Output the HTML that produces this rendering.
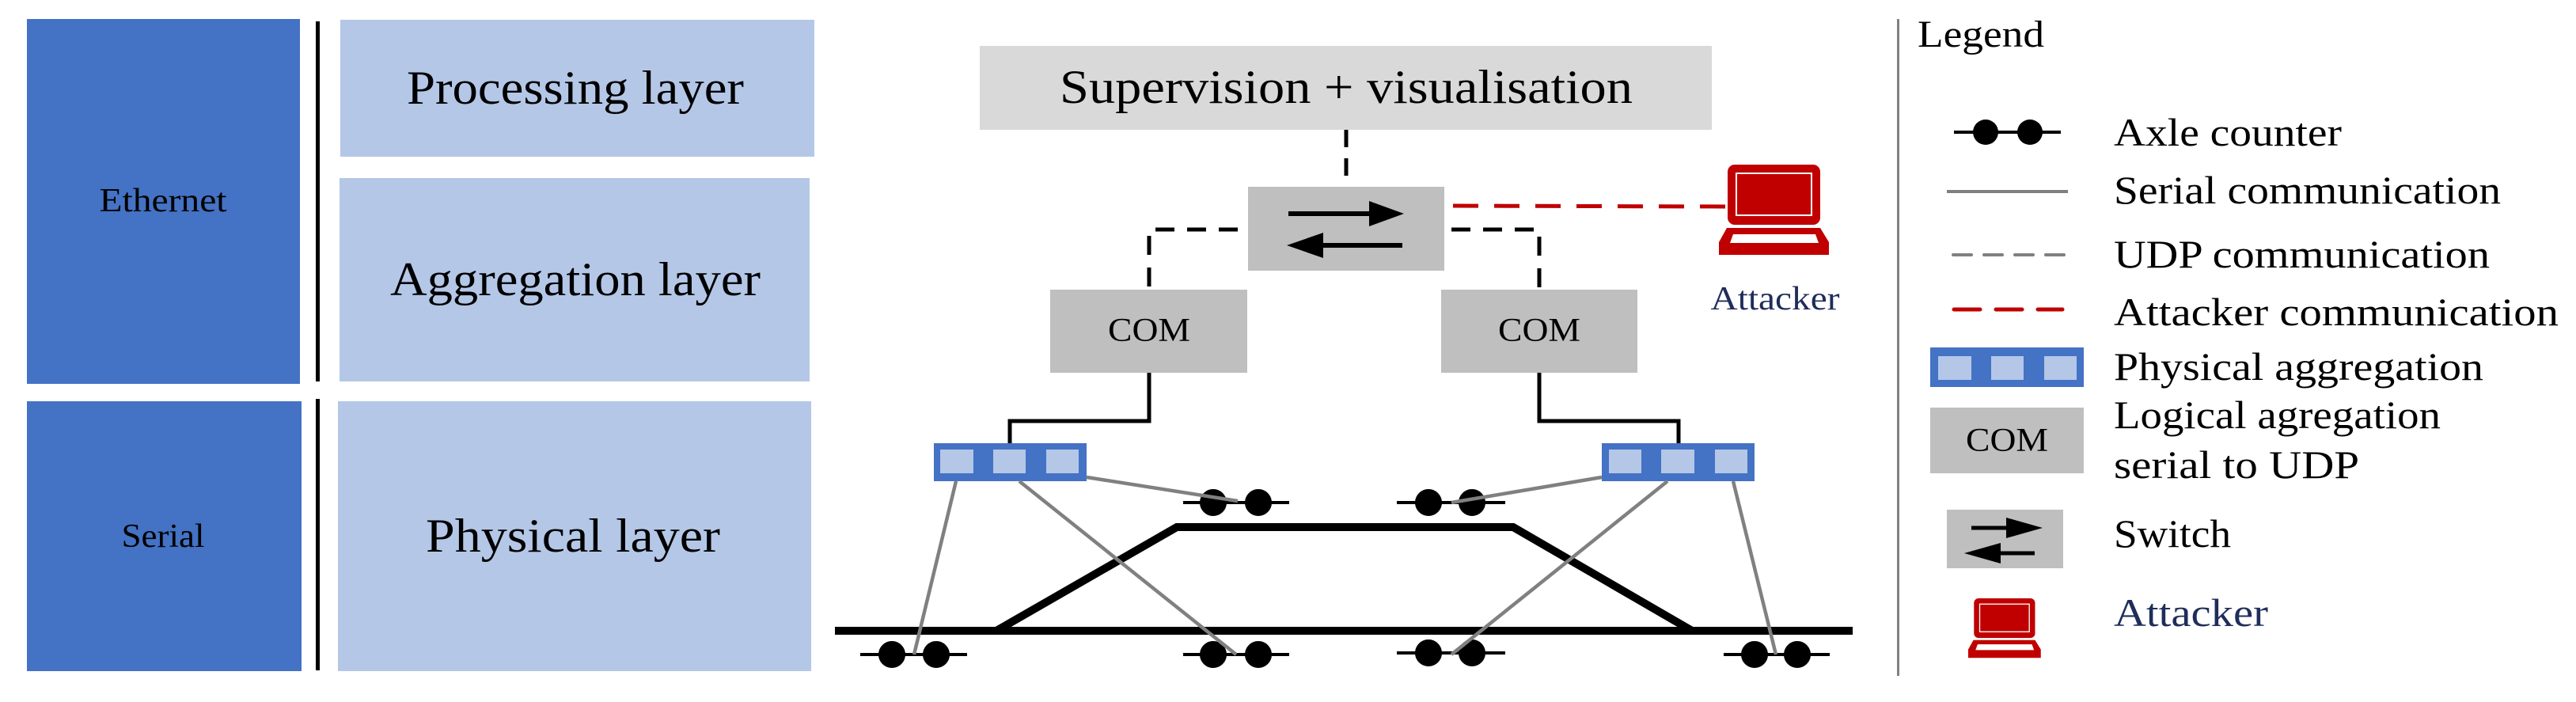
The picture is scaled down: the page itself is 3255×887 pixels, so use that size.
<!DOCTYPE html>
<html><head><meta charset="utf-8"><style>
html,body{margin:0;padding:0;background:#fff;}
svg{display:block;font-family:"Liberation Serif","DejaVu Serif",serif;}
svg text{font-family:"Liberation Serif","DejaVu Serif",serif;fill:#000;}
</style></head><body>
<svg width="3255" height="887" viewBox="0 0 3255 887" xmlns="http://www.w3.org/2000/svg" font-family="Liberation Serif, DejaVu Serif, serif">
<defs>
<g id="laptop">
<rect x="11" y="0" width="117" height="76" rx="9" fill="#c00000"/>
<rect x="22" y="11" width="95" height="53" fill="none" stroke="#fff" stroke-width="2"/>
<path d="M10,80 L128,80 L139,98 L139,114 L0,114 L0,98 Z" fill="#c00000"/>
<path d="M18,88 L122,88 L126,99 L14,99 Z" fill="#fff"/>
</g>
</defs>

<rect x="34" y="24" width="345" height="461" fill="#4472c4"/>
<rect x="34" y="507" width="347" height="341" fill="#4472c4"/>
<text x="206" y="267" font-size="42" text-anchor="middle" textLength="161" lengthAdjust="spacingAndGlyphs">Ethernet</text>
<text x="206" y="691" font-size="42" text-anchor="middle" textLength="105" lengthAdjust="spacingAndGlyphs">Serial</text>
<rect x="399" y="27" width="5" height="455" fill="#000"/>
<rect x="399" y="504" width="5" height="343" fill="#000"/>
<rect x="430" y="25" width="599" height="173" fill="#b4c7e7"/>
<rect x="429" y="225" width="594" height="257" fill="#b4c7e7"/>
<rect x="427" y="507" width="598" height="341" fill="#b4c7e7"/>
<text x="727" y="131" font-size="60" text-anchor="middle" textLength="426" lengthAdjust="spacingAndGlyphs">Processing layer</text>
<text x="727" y="373" font-size="60" text-anchor="middle" textLength="468" lengthAdjust="spacingAndGlyphs">Aggregation layer</text>
<text x="724" y="697" font-size="60" text-anchor="middle" textLength="372" lengthAdjust="spacingAndGlyphs">Physical layer</text>

<rect x="1238" y="58" width="925" height="106" fill="#d9d9d9"/>
<text x="1701" y="130" font-size="60" text-anchor="middle" textLength="724" lengthAdjust="spacingAndGlyphs">Supervision + visualisation</text>
<line x1="1701" y1="164" x2="1701" y2="236" stroke="#000" stroke-width="5" stroke-dasharray="22,14"/>

<rect x="1577" y="236" width="248" height="106" fill="#bfbfbf"/>
<line x1="1628" y1="270" x2="1735" y2="270" stroke="#000" stroke-width="6"/>
<polygon points="1774,270 1730,254 1730,286" fill="#000"/>
<line x1="1772" y1="310" x2="1668" y2="310" stroke="#000" stroke-width="6"/>
<polygon points="1626,310 1672,294 1672,326" fill="#000"/>

<polyline points="1564,290 1452,290 1452,366" fill="none" stroke="#000" stroke-width="5" stroke-dasharray="24,16"/>
<polyline points="1834,290 1945,290 1945,366" fill="none" stroke="#000" stroke-width="5" stroke-dasharray="24,16"/>
<line x1="1836" y1="260" x2="2184" y2="261" stroke="#c00000" stroke-width="5" stroke-dasharray="32,20"/>

<rect x="1327" y="366" width="249" height="105" fill="#bfbfbf"/>
<rect x="1821" y="366" width="248" height="105" fill="#bfbfbf"/>
<text x="1452" y="431" font-size="42" text-anchor="middle" textLength="104" lengthAdjust="spacingAndGlyphs">COM</text>
<text x="1945" y="431" font-size="42" text-anchor="middle" textLength="104" lengthAdjust="spacingAndGlyphs">COM</text>

<use href="#laptop" transform="translate(2172,208)"/>
<text x="2243" y="391" font-size="42" text-anchor="middle" textLength="163" lengthAdjust="spacingAndGlyphs" style="fill:#1f2d5a">Attacker</text>

<polyline points="1452,471 1452,532 1276,532 1276,560" fill="none" stroke="#000" stroke-width="5"/>
<polyline points="1945,471 1945,532 2121,532 2121,560" fill="none" stroke="#000" stroke-width="5"/>

<rect x="1180" y="560" width="193" height="48" fill="#4472c4"/>
<rect x="1188" y="568" width="42" height="30" fill="#b4c7e7"/>
<rect x="1255" y="568" width="41" height="30" fill="#b4c7e7"/>
<rect x="1322" y="568" width="41" height="30" fill="#b4c7e7"/>
<rect x="2024" y="560" width="193" height="48" fill="#4472c4"/>
<rect x="2033" y="568" width="41" height="30" fill="#b4c7e7"/>
<rect x="2099" y="568" width="42" height="30" fill="#b4c7e7"/>
<rect x="2167" y="568" width="41" height="30" fill="#b4c7e7"/>

<line x1="1055" y1="797" x2="2341" y2="797" stroke="#000" stroke-width="10"/>
<polyline points="1259,797 1487,666 1912,666 2138,797" fill="none" stroke="#000" stroke-width="10"/>

<g stroke="#000" stroke-width="4" fill="#000">
<line x1="1495" y1="635" x2="1629" y2="635"/><circle cx="1533" cy="635" r="15"/><circle cx="1590" cy="635" r="15"/>
<line x1="1765" y1="635" x2="1902" y2="635"/><circle cx="1805" cy="635" r="15"/><circle cx="1860" cy="635" r="15"/>
<line x1="1087" y1="827" x2="1222" y2="827"/><circle cx="1127" cy="827" r="15"/><circle cx="1183" cy="827" r="15"/>
<line x1="1495" y1="827" x2="1629" y2="827"/><circle cx="1533" cy="827" r="15"/><circle cx="1590" cy="827" r="15"/>
<line x1="1765" y1="825" x2="1902" y2="825"/><circle cx="1805" cy="825" r="15"/><circle cx="1860" cy="825" r="15"/>
<line x1="2178" y1="827" x2="2312" y2="827"/><circle cx="2217" cy="827" r="15"/><circle cx="2271" cy="827" r="15"/>
</g>

<g stroke="#808080" stroke-width="4.5">
<line x1="1208" y1="608" x2="1155" y2="827"/>
<line x1="1288" y1="608" x2="1562" y2="827"/>
<line x1="1373" y1="603" x2="1564" y2="633"/>
<line x1="2024" y1="603" x2="1834" y2="635"/>
<line x1="2107" y1="608" x2="1834" y2="827"/>
<line x1="2190" y1="608" x2="2244" y2="827"/>
</g>

<rect x="2397" y="24" width="3" height="830" fill="#808080"/>
<text x="2423" y="59" font-size="48" textLength="160" lengthAdjust="spacingAndGlyphs">Legend</text>

<line x1="2469" y1="167" x2="2604" y2="167" stroke="#000" stroke-width="4"/>
<circle cx="2509" cy="167" r="16" fill="#000"/><circle cx="2565" cy="167" r="16" fill="#000"/>
<text x="2671" y="184" font-size="50" textLength="288" lengthAdjust="spacingAndGlyphs">Axle counter</text>

<line x1="2460" y1="242" x2="2613" y2="242" stroke="#808080" stroke-width="4"/>
<text x="2671" y="257" font-size="50" textLength="489" lengthAdjust="spacingAndGlyphs">Serial communication</text>

<line x1="2468" y1="322" x2="2613" y2="322" stroke="#808080" stroke-width="4" stroke-dasharray="23,16" stroke-linecap="round"/>
<text x="2671" y="338" font-size="50" textLength="475" lengthAdjust="spacingAndGlyphs">UDP communication</text>

<line x1="2469" y1="391" x2="2606" y2="391" stroke="#c00000" stroke-width="5" stroke-dasharray="33,20" stroke-linecap="round"/>
<text x="2671" y="411" font-size="50" textLength="562" lengthAdjust="spacingAndGlyphs">Attacker communication</text>

<rect x="2439" y="439" width="194" height="50" fill="#4472c4"/>
<rect x="2449" y="450" width="42" height="30" fill="#b4c7e7"/>
<rect x="2516" y="450" width="41" height="30" fill="#b4c7e7"/>
<rect x="2583" y="450" width="41" height="30" fill="#b4c7e7"/>
<text x="2671" y="480" font-size="50" textLength="467" lengthAdjust="spacingAndGlyphs">Physical aggregation</text>

<rect x="2439" y="515" width="194" height="83" fill="#bfbfbf"/>
<text x="2536" y="570" font-size="42" text-anchor="middle" textLength="104" lengthAdjust="spacingAndGlyphs">COM</text>
<text x="2671" y="541" font-size="50" textLength="413" lengthAdjust="spacingAndGlyphs">Logical agregation</text>
<text x="2671" y="604" font-size="50" textLength="310" lengthAdjust="spacingAndGlyphs">serial to UDP</text>

<rect x="2460" y="644" width="147" height="74" fill="#bfbfbf"/>
<line x1="2491" y1="667" x2="2540" y2="667" stroke="#000" stroke-width="5"/>
<polygon points="2581,667 2535,654 2535,680" fill="#000"/>
<line x1="2571" y1="699" x2="2524" y2="699" stroke="#000" stroke-width="5"/>
<polygon points="2482,699 2528,686 2528,712" fill="#000"/>
<text x="2671" y="691" font-size="50" textLength="148" lengthAdjust="spacingAndGlyphs">Switch</text>

<use href="#laptop" transform="translate(2487,756) scale(0.66)"/>
<text x="2671" y="791" font-size="50" textLength="195" lengthAdjust="spacingAndGlyphs" style="fill:#1f2d5a">Attacker</text>
</svg>
</body></html>
